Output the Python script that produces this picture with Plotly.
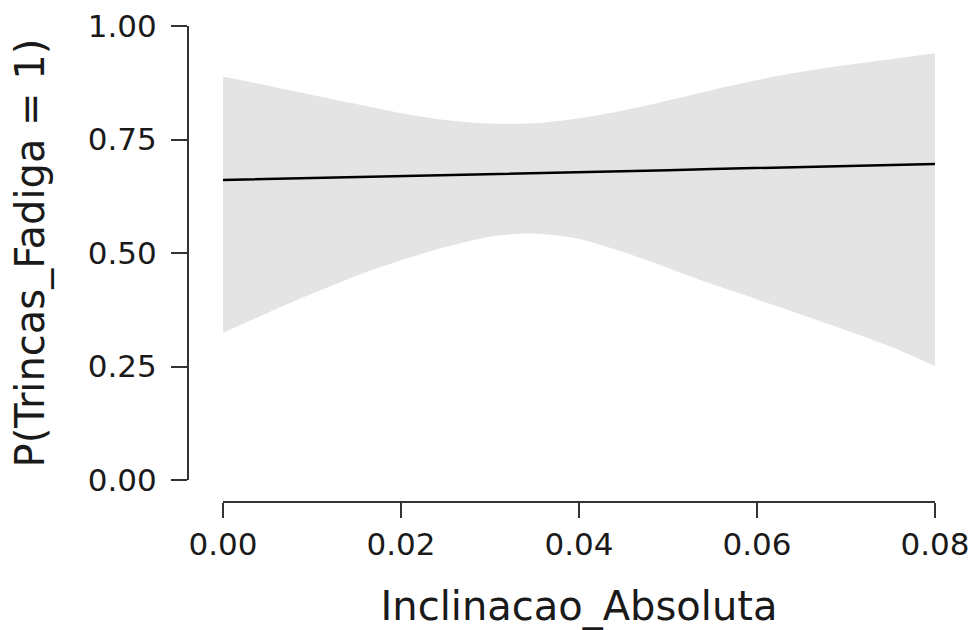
import plotly.graph_objects as go

# Data
x_grid = [0.0, 0.005, 0.01, 0.015, 0.02, 0.025, 0.03, 0.035, 0.04, 0.045,
          0.05, 0.055, 0.06, 0.065, 0.07, 0.075, 0.08]
upper = [0.888, 0.869, 0.848, 0.828, 0.808, 0.793, 0.785, 0.786, 0.797, 0.814,
         0.836, 0.859, 0.881, 0.899, 0.914, 0.927, 0.940]
lower = [0.324, 0.368, 0.410, 0.450, 0.484, 0.513, 0.536, 0.543, 0.531, 0.502,
         0.467, 0.431, 0.398, 0.364, 0.330, 0.294, 0.251]
fit = [0.661, 0.663, 0.665, 0.667, 0.670, 0.672, 0.674, 0.676, 0.678, 0.680,
       0.682, 0.685, 0.687, 0.689, 0.691, 0.694, 0.696]

x_ticks = [0.0, 0.02, 0.04, 0.06, 0.08]
x_ticklabels = ["0.00", "0.02", "0.04", "0.06", "0.08"]
y_ticks = [0.0, 0.25, 0.5, 0.75, 1.0]
y_ticklabels = ["0.00", "0.25", "0.50", "0.75", "1.00"]

W, H = 976, 630
ml, mr, mt, mb = 188, 41, 26, 128
pw, ph = W - ml - mr, H - mt - mb

FONT = "DejaVu Sans"
TXT = "#1a1a1a"
AX = "#333333"

fig = go.Figure()
fig.add_trace(go.Scatter(
    x=x_grid, y=lower, mode="lines",
    line=dict(width=0, shape="spline", smoothing=0.8, color="rgba(0,0,0,0)"),
    hoverinfo="skip", showlegend=False))
fig.add_trace(go.Scatter(
    x=x_grid, y=upper, mode="lines", fill="tonexty", fillcolor="#e4e4e4",
    line=dict(width=0, shape="spline", smoothing=0.8, color="rgba(0,0,0,0)"),
    hoverinfo="skip", showlegend=False))
fig.add_trace(go.Scatter(
    x=x_grid, y=fit, mode="lines",
    line=dict(color="black", width=2.5), showlegend=False))

fig.update_layout(
    width=W, height=H,
    margin=dict(l=ml, r=mr, t=mt, b=mb, pad=0, autoexpand=False),
    paper_bgcolor="white", plot_bgcolor="white",
    font=dict(family=FONT, color=TXT, size=31),
    xaxis=dict(
        domain=[35 / pw, 1], anchor="free", position=0, automargin=False,
        range=[0, 0.08], tickvals=x_ticks, ticktext=x_ticklabels,
        showgrid=False, zeroline=False, showline=True, linecolor=AX, linewidth=2,
        ticks="outside", ticklen=15, tickwidth=2, tickcolor=AX,
        tickfont=dict(size=31, family=FONT, color=TXT),
        title=dict(text="Inclinacao_Absoluta", font=dict(size=40, family=FONT, color=TXT),
                   standoff=30),
    ),
    yaxis=dict(
        domain=[22 / ph, 1], anchor="free", position=0, automargin=False,
        range=[0, 1], tickvals=y_ticks, ticktext=y_ticklabels,
        showgrid=False, zeroline=False, showline=True, linecolor=AX, linewidth=2,
        ticks="outside", ticklen=16, tickwidth=2, tickcolor=AX,
        tickfont=dict(size=31, family=FONT, color=TXT),
        ticklabelstandoff=8,
        title=dict(text="P(Trincas_Fadiga = 1)", font=dict(size=40, family=FONT, color=TXT),
                   standoff=30),
    ),
)

fig.write_html("out.html")
